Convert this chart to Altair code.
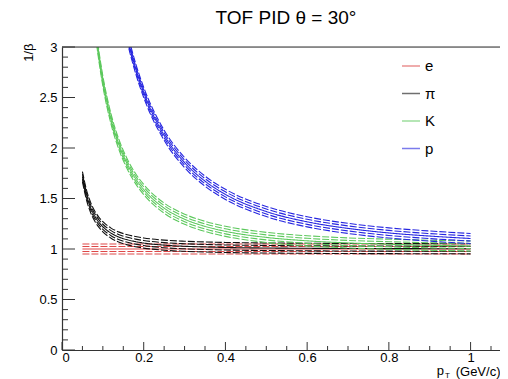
import altair as alt
import pandas as pd

# transverse momentum sample points (GeV/c)
pt = [0.05, 0.06, 0.07, 0.08, 0.09, 0.10, 0.12, 0.14, 0.16, 0.18, 0.20,
      0.25, 0.30, 0.35, 0.40, 0.50, 0.60, 0.70, 0.80, 0.90, 1.00]

# 1/beta central curves
inv_beta_e = [1.000, 1.000, 1.000, 1.000, 1.000, 1.000, 1.000, 1.000, 1.000, 1.000, 1.000,
              1.000, 1.000, 1.000, 1.000, 1.000, 1.000, 1.000, 1.000, 1.000, 1.000]
inv_beta_pi = [1.717, 1.534, 1.412, 1.327, 1.266, 1.220, 1.157, 1.117, 1.091, 1.073, 1.059,
               1.038, 1.027, 1.020, 1.015, 1.010, 1.007, 1.005, 1.004, 1.003, 1.002]
inv_beta_k = [5.037, 4.234, 3.667, 3.244, 2.919, 2.663, 2.287, 2.027, 1.839, 1.697, 1.589,
              1.405, 1.295, 1.224, 1.175, 1.115, 1.081, 1.060, 1.047, 1.037, 1.030]
inv_beta_p = [9.430, 7.880, 6.770, 5.950, 5.310, 4.800, 4.035, 3.496, 3.097, 2.791, 2.550,
              2.126, 1.856, 1.672, 1.541, 1.371, 1.269, 1.204, 1.159, 1.128, 1.104]

particles = ["e", "π", "K", "p"]
colors = ["#de4848", "#111111", "#5cc85c", "#2525e0"]
# resolution band lines around each curve (offsets in 1/beta)
band_offsets = [-0.05, -0.025, 0.0, 0.025, 0.05]

x_major = [0, 0.2, 0.4, 0.6, 0.8, 1.0]
x_minor = [0.05, 0.1, 0.15, 0.25, 0.3, 0.35, 0.45, 0.5, 0.55, 0.65, 0.7, 0.75,
           0.85, 0.9, 0.95, 1.05]
y_major = [0, 0.5, 1, 1.5, 2, 2.5, 3]
y_minor = [0.1, 0.2, 0.3, 0.4, 0.6, 0.7, 0.8, 0.9, 1.1, 1.2, 1.3, 1.4, 1.6, 1.7,
           1.8, 1.9, 2.1, 2.2, 2.3, 2.4, 2.6, 2.7, 2.8, 2.9]

rows = []
for name, vals in zip(particles, [inv_beta_e, inv_beta_pi, inv_beta_k, inv_beta_p]):
    for i, off in enumerate(band_offsets):
        for x, v in zip(pt, vals):
            rows.append({"pt": x, "inv_beta": v + off, "particle": name,
                         "series": f"{name}_{i}",
                         "style": "solid" if off == 0 else "dashed"})
df = pd.DataFrame(rows)

W, H = 438, 303
FONT = "Liberation Sans"
AX = "#333333"
xscale = alt.Scale(domain=[0, 1.072], nice=False, zero=False)
yscale = alt.Scale(domain=[0, 3], nice=False)

curves = alt.Chart(df).mark_line(strokeWidth=1.1, clip=True, interpolate="monotone").encode(
    x=alt.X("pt:Q", scale=xscale,
            axis=alt.Axis(values=x_major, format="~g", ticks=False, grid=False,
                          domainColor=AX, domainWidth=1.2, labelFont=FONT,
                          labelFontSize=13, labelColor="black", labelPadding=1,
                          title="(GeV/c)", titleFont=FONT,
                          titleFontSize=13, titleFontWeight="normal",
                          titleAlign="right", titleX=W, titleY=25,
                          titleBaseline="alphabetic", titleColor="black")),
    y=alt.Y("inv_beta:Q", scale=yscale,
            axis=alt.Axis(values=y_major, format="~g", ticks=False, grid=False,
                          domainColor=AX, domainWidth=1.2, labelFont=FONT,
                          labelFontSize=13, labelColor="black", labelPadding=5,
                          title="1/β", titleFont=FONT, titleFontSize=13,
                          titleFontWeight="normal", titleAngle=270,
                          titleAlign="right", titleBaseline="middle",
                          titleX=-34, titleY=-4, titleColor="black")),
    color=alt.Color("particle:N", sort=particles,
                    scale=alt.Scale(domain=particles, range=colors),
                    legend=alt.Legend(title=None, orient="none", legendX=339,
                                      legendY=9, symbolType="stroke",
                                      symbolSize=324, symbolStrokeWidth=1.5,
                                      symbolOpacity=0.6, labelFont=FONT,
                                      labelFontSize=15, labelColor="black",
                                      labelOffset=4, rowPadding=9.5)),
    strokeDash=alt.StrokeDash("style:N",
                              scale=alt.Scale(domain=["solid", "dashed"],
                                              range=[[1, 0], [7, 2]]),
                              legend=None),
    detail="series:N",
)

def ticks(values, axis, length):
    d = pd.DataFrame({"v": values})
    base = alt.Chart(d).mark_rule(color=AX, strokeWidth=1)
    if axis == "x":
        return base.encode(x=alt.X("v:Q", scale=xscale),
                           y=alt.value(H), y2=alt.value(H - length))
    return base.encode(y=alt.Y("v:Q", scale=yscale),
                       x=alt.value(0), x2=alt.value(length))

frame_top = alt.Chart(pd.DataFrame({"v": [3]})).mark_rule(color=AX, strokeWidth=1.2).encode(
    y=alt.Y("v:Q", scale=yscale), x=alt.value(0), x2=alt.value(W))

one = alt.Data(values=[{}])
title_p = alt.Chart(one).mark_text(
    text="p", font=FONT, fontSize=13, align="right", baseline="alphabetic").encode(
    x=alt.value(W - 56), y=alt.value(H + 25))
sub_t = alt.Chart(one).mark_text(
    text="T", font=FONT, fontSize=8, align="left", baseline="alphabetic").encode(
    x=alt.value(W - 55), y=alt.value(H + 28))

chart = alt.layer(
    curves,
    ticks(x_major, "x", 8), ticks(x_minor, "x", 4),
    ticks(y_major, "y", 13), ticks(y_minor, "y", 6),
    frame_top, title_p, sub_t,
).properties(
    width=W, height=H,
    title=alt.TitleParams("TOF PID θ = 30°", font=FONT, fontSize=19,
                          fontWeight="normal", anchor="middle", dx=5,
                          offset=13, color="black"),
    autosize=alt.AutoSizeParams(type="none"),
    padding={"left": 54, "top": 39, "right": 0, "bottom": 29},
).configure_view(stroke=None).configure(background="white")

chart.save("out.html", embed_options={"renderer": "svg", "actions": False})
